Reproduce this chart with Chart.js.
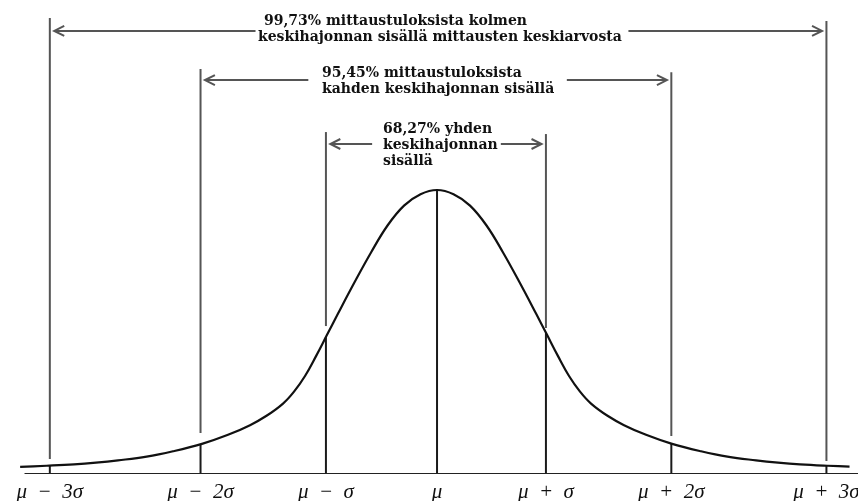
<!DOCTYPE html>
<html>
<head>
<meta charset="utf-8">
<script src="https://cdn.jsdelivr.net/npm/chart.js@4"></script>
<style>
  html, body { margin: 0; padding: 0; background: #fff; }
  #wrap { width: 858px; height: 501px; }
</style>
</head>
<body>
<div id="wrap"><canvas id="normalChart"></canvas></div>
<script>
// sigma marks (x in units of the mu..mu+sigma distance)
const sigmaLabels = ['μ\u2002−\u20023σ', 'μ\u2002−\u20022σ', 'μ\u2002−\u2002σ', 'μ', 'μ\u2002+\u2002σ', 'μ\u2002+\u20022σ', 'μ\u2002+\u20023σ'];
const sigmaX = [-3.52, -2.15, -1.01, 0, 0.99, 2.13, 3.54];
// height of the curve at each mark (peak = 1)
const footY = [0.03, 0.105, 0.482, 1.0, 0.497, 0.107, 0.029];
// long grey guide lines above the curve
const guideTop = [1.606, 1.426, 1.204, null, 1.197, 1.415, 1.595];
const guideBottom = [0.053, 0.144, 0.521, null, 0.514, 0.134, 0.046];

// the bell curve
const curveX = [-3.79, -3.55, -3.3, -3.1, -2.9, -2.64, -2.4, -2.13, -1.9, -1.7, -1.55, -1.4, -1.3, -1.2, -1.1, -1.0,
                -0.9, -0.75, -0.6, -0.45, -0.3, -0.15, 0,
                0.15, 0.3, 0.45, 0.6, 0.75, 0.9, 1.0, 1.1, 1.2, 1.3, 1.4, 1.55, 1.7, 1.9, 2.13, 2.4, 2.64,
                2.9, 3.1, 3.3, 3.55, 3.75];
const curveY = [0.025, 0.029, 0.034, 0.04, 0.048, 0.061, 0.08, 0.107, 0.138, 0.172, 0.205, 0.248, 0.29, 0.345, 0.415, 0.49,
                0.565, 0.675, 0.78, 0.875, 0.945, 0.985, 1.0,
                0.985, 0.945, 0.875, 0.78, 0.675, 0.565, 0.49, 0.415, 0.345, 0.29, 0.248, 0.205, 0.172, 0.138, 0.107, 0.08, 0.061,
                0.048, 0.04, 0.034, 0.029, 0.026];

// arrows: height, inner ends (next to the text), outer ends are sigma marks
const arrowY = [1.56, 1.387, 1.162];
const arrowInner = [[-1.65, 1.74], [-1.17, 1.18], [-0.59, 0.58]];
const arrowOuter = [[0, 6], [1, 5], [2, 4]];

const percentTexts = [
  ['99,73% mittaustuloksista kolmen', 'keskihajonnan sisällä mittausten keskiarvosta'],
  ['95,45% mittaustuloksista', 'kahden keskihajonnan sisällä'],
  ['68,27% yhden', 'keskihajonnan', 'sisällä']
];

const datasets = [];

datasets.push({
  data: curveX.map((x, i) => ({ x: x, y: curveY[i] })),
  borderColor: '#111', borderWidth: 2.2, pointRadius: 0,
  tension: 0.4
});

// baseline
datasets.push({
  data: [{ x: -3.75, y: 0 }, { x: 3.83, y: 0 }],
  borderColor: '#222', borderWidth: 2, pointRadius: 0
});

sigmaX.forEach((x, i) => {
  datasets.push({
    data: [{ x: x, y: 0 }, { x: x, y: footY[i] }],
    borderColor: '#1a1a1a', borderWidth: 2, pointRadius: 0
  });
  if (guideTop[i] !== null) {
    datasets.push({
      data: [{ x: x, y: guideBottom[i] }, { x: x, y: guideTop[i] }],
      borderColor: '#555', borderWidth: 2, pointRadius: 0
    });
  }
});

arrowY.forEach((y, k) => {
  datasets.push({
    data: [{ x: arrowInner[k][0], y: y }, { x: sigmaX[arrowOuter[k][0]] + 0.04, y: y }],
    borderColor: '#555', borderWidth: 2, pointRadius: 0, arrow: true
  });
  datasets.push({
    data: [{ x: arrowInner[k][1], y: y }, { x: sigmaX[arrowOuter[k][1]] - 0.04, y: y }],
    borderColor: '#555', borderWidth: 2, pointRadius: 0, arrow: true
  });
});

const arrowHeads = {
  id: 'arrowHeads',
  afterDatasetsDraw(chart) {
    const ctx = chart.ctx;
    chart.data.datasets.forEach((ds, i) => {
      if (!ds.arrow) return;
      const pts = chart.getDatasetMeta(i).data;
      const a = pts[0], b = pts[pts.length - 1];
      const dir = b.x > a.x ? 1 : -1;
      ctx.save();
      ctx.strokeStyle = '#555';
      ctx.lineWidth = 2;
      ctx.beginPath();
      ctx.moveTo(b.x - dir * 10, b.y - 5);
      ctx.lineTo(b.x, b.y);
      ctx.lineTo(b.x - dir * 10, b.y + 5);
      ctx.stroke();
      ctx.restore();
    });
  }
};

const textBlocks = {
  id: 'textBlocks',
  afterDraw(chart) {
    const ctx = chart.ctx;
    const spots = [
      [[264, 25], [258, 41]],
      [[322, 77], [322, 93]],
      [[383, 133], [383, 149], [383, 165]]
    ];
    ctx.save();
    ctx.font = 'bold 14px "DejaVu Serif"';
    ctx.fillStyle = '#111';
    ctx.textBaseline = 'alphabetic';
    percentTexts.forEach((lines, b) => {
      lines.forEach((t, j) => ctx.fillText(t, spots[b][j][0], spots[b][j][1]));
    });
    ctx.restore();
  }
};

new Chart(document.getElementById('normalChart'), {
  type: 'line',
  data: { datasets: datasets },
  plugins: [arrowHeads, textBlocks],
  options: {
    responsive: true,
    maintainAspectRatio: false,
    animation: false,
    layout: { padding: 0 },
    plugins: { legend: { display: false }, tooltip: { enabled: false } },
    elements: { line: { tension: 0 } },
    scales: {
      x: {
        type: 'linear',
        min: -3.973,
        max: 3.827,
        grid: { display: false, drawTicks: false },
        border: { display: false },
        afterBuildTicks(scale) {
          scale.ticks = sigmaX.map(v => ({ value: v }));
        },
        afterFit(scale) {
          scale.height = 27;
          scale.paddingLeft = 0;
          scale.paddingRight = 0;
        },
        ticks: {
          autoSkip: false,
          maxRotation: 0,
          padding: 6,
          color: '#111',
          font: { family: '"Liberation Serif"', size: 21, style: 'italic' },
          callback: (value, index) => sigmaLabels[index]
        }
      },
      y: {
        display: false,
        min: 0,
        max: 1.669
      }
    }
  }
});
</script>
</body>
</html>
